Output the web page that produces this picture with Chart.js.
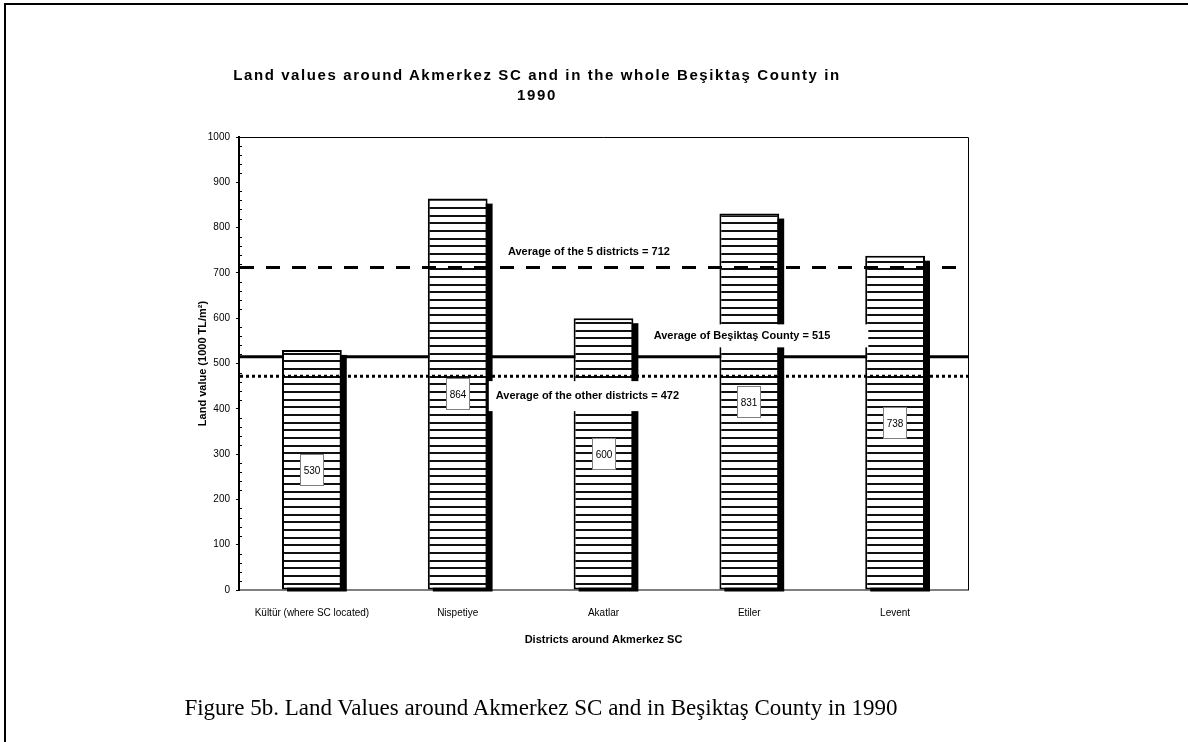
<!DOCTYPE html>
<html>
<head>
<meta charset="utf-8">
<script src="https://cdn.jsdelivr.net/npm/chart.js@4.4.1/dist/chart.umd.min.js"></script>
<style>
  html, body { margin: 0; padding: 0; background: #fff; }
  #wrap { position: relative; width: 1188px; height: 742px; overflow: hidden; }
  #frameTop { position: absolute; left: 4px; top: 3px; width: 1184px; height: 2px; background: #000; }
  #frameLeft { position: absolute; left: 4px; top: 3px; width: 2px; height: 739px; background: #000; }
  #title {
    position: absolute; left: 0; top: 65px; width: 1074px; text-align: center;
    font: bold 15px Arial, "Liberation Sans", sans-serif; line-height: 20px; letter-spacing: 1.6px;
  }
  #caption {
    position: absolute; left: 0; top: 693px; width: 1082px; text-align: center;
    font: 23px "Times New Roman", "Liberation Serif", serif; line-height: 30px;
  }
  canvas { position: absolute; left: 0; top: 0; }
</style>
</head>
<body>
<div id="wrap">
  <div id="frameTop"></div>
  <div id="frameLeft"></div>
  <canvas id="chart" width="1188" height="742"></canvas>
  <div id="title">Land values around Akmerkez SC and in the whole Beşiktaş County in<br>1990</div>
  <div id="caption">Figure 5b. Land Values around Akmerkez SC and in Beşiktaş County in 1990</div>
</div>
<script>
const districts = ["Kültür (where SC located)", "Nispetiye", "Akatlar", "Etiler", "Levent"];
const landValues = [530, 864, 600, 831, 738];

// averages: 5 districts, whole county, the other districts
const avgValues = [712, 515, 472];
const avgTexts = [
  "Average of the 5 districts = 712",
  "Average of Beşiktaş County = 515",
  "Average of the other districts = 472"
];

const FONT = 'Arial, "Liberation Sans", sans-serif';

// how each average line and its label look / sit
const avgStyles = [
  { dash: [14, 12], width: 3, onTop: true,  lx: 1.90, ly: 746, padL: 6, padR: 6,  h: 22 },
  { dash: [],       width: 3, onTop: false, lx: 2.95, ly: 561, padL: 8, padR: 38, h: 23 },
  { dash: [3, 3],   width: 3, onTop: true,  lx: 1.89, ly: 428, padL: 7, padR: 9,  h: 30 }
];

function hatchPattern() {
  const c = document.createElement("canvas");
  c.width = 8; c.height = 23;
  const g = c.getContext("2d");
  g.fillStyle = "#fff";
  g.fillRect(0, 0, 8, 23);
  g.fillStyle = "#111";
  [0, 8, 15].forEach((y) => g.fillRect(0, y, 8, 2));
  return g.createPattern(c, "repeat");
}

function drawAvgLines(chart, onTop) {
  const { ctx, chartArea: a, scales: { y } } = chart;
  avgValues.forEach((v, i) => {
    const s = avgStyles[i];
    if (s.onTop !== onTop) return;
    const py = y.getPixelForValue(v);
    ctx.save();
    ctx.strokeStyle = "#000";
    ctx.lineWidth = s.width;
    ctx.setLineDash(s.dash);
    ctx.beginPath();
    ctx.moveTo(a.left + 1, py);
    ctx.lineTo(a.right, py);
    ctx.stroke();
    ctx.restore();
  });
}

const decor = {
  id: "decor",
  beforeDatasetsDraw(chart) {
    const { ctx, chartArea: a, scales: { y } } = chart;
    ctx.save();
    // top and right edge of the plot area
    ctx.strokeStyle = "#000";
    ctx.lineWidth = 1;
    ctx.beginPath();
    ctx.moveTo(a.left, a.top + 0.5);
    ctx.lineTo(a.right + 0.5, a.top + 0.5);
    ctx.lineTo(a.right + 0.5, a.bottom);
    ctx.stroke();
    // minor ticks every 20
    ctx.beginPath();
    for (let v = 20; v < 1000; v += 20) {
      if (v % 100 === 0) continue;
      const py = Math.round(y.getPixelForValue(v)) + 0.5;
      ctx.moveTo(a.left, py);
      ctx.lineTo(a.left + 3, py);
    }
    ctx.stroke();
    ctx.restore();

    drawAvgLines(chart, false);

    // drop shadows of the bars
    ctx.save();
    ctx.fillStyle = "#000";
    chart.getDatasetMeta(0).data.forEach((b) => {
      const p = b.getProps(["x", "y", "base", "width"], true);
      ctx.fillRect(p.x - p.width / 2 + 5, p.y + 5, p.width, p.base - p.y - 3);
    });
    ctx.restore();
  },
  afterDatasetsDraw(chart) {
    const { ctx, scales: { x, y } } = chart;
    drawAvgLines(chart, true);

    // value boxes in the middle of each bar
    ctx.save();
    ctx.font = "10px " + FONT;
    ctx.textAlign = "center";
    ctx.textBaseline = "middle";
    chart.getDatasetMeta(0).data.forEach((b, i) => {
      const p = b.getProps(["x", "y", "base"], true);
      const cy = Math.round((p.y + p.base) / 2);
      const cx = Math.round(p.x);
      ctx.fillStyle = "#fff";
      ctx.fillRect(cx - 11.5, cy - 15.5, 23, 31);
      ctx.strokeStyle = "#808080";
      ctx.lineWidth = 1;
      ctx.strokeRect(cx - 11.5, cy - 15.5, 23, 31);
      ctx.fillStyle = "#000";
      ctx.fillText(String(landValues[i]), cx, cy + 1);
    });

    // average labels on white boxes
    ctx.font = "bold 11px " + FONT;
    avgTexts.forEach((t, i) => {
      const s = avgStyles[i];
      const cx = x.getPixelForValue(s.lx);
      const cy = y.getPixelForValue(s.ly);
      const w = ctx.measureText(t).width;
      ctx.fillStyle = "#fff";
      ctx.fillRect(cx - w / 2 - s.padL, cy - s.h / 2, w + s.padL + s.padR, s.h);
      ctx.fillStyle = "#000";
      ctx.fillText(t, cx, cy);
    });
    ctx.restore();
  }
};

new Chart(document.getElementById("chart"), {
  type: "bar",
  data: {
    labels: districts,
    datasets: [{
      data: landValues,
      backgroundColor: hatchPattern(),
      borderColor: "#000",
      borderWidth: 2,
      borderSkipped: false,
      categoryPercentage: 1,
      barPercentage: 0.41
    }]
  },
  options: {
    responsive: false,
    animation: false,
    layout: { padding: { left: 196, top: 137, right: 220, bottom: 95.4 } },
    plugins: { legend: { display: false }, tooltip: { enabled: false }, title: { display: false } },
    scales: {
      x: {
        offset: true,
        grid: { display: false, drawTicks: false },
        border: { color: "#808080", width: 2 },
        ticks: { color: "#000", font: { size: 10, family: FONT }, padding: 17, maxRotation: 0, autoSkip: false },
        title: { display: true, text: "Districts around Akmerkez SC", color: "#000", font: { size: 11, weight: "bold", family: FONT }, padding: 0 },
        afterFit: (s) => { s.height = 56.6; }
      },
      y: {
        min: 0,
        max: 1000,
        ticks: { stepSize: 100, color: "#000", font: { size: 10, family: FONT }, padding: 6, callback: (v) => String(v) },
        grid: { drawOnChartArea: false, tickLength: 3, color: "#000", lineWidth: 1 },
        border: { color: "#000", width: 2 },
        title: { display: true, text: "Land value (1000 TL/m²)", color: "#000", font: { size: 11, weight: "bold", family: FONT }, padding: 0 },
        afterFit: (s) => { s.width = 43; }
      }
    }
  },
  plugins: [decor]
});
</script>
</body>
</html>
